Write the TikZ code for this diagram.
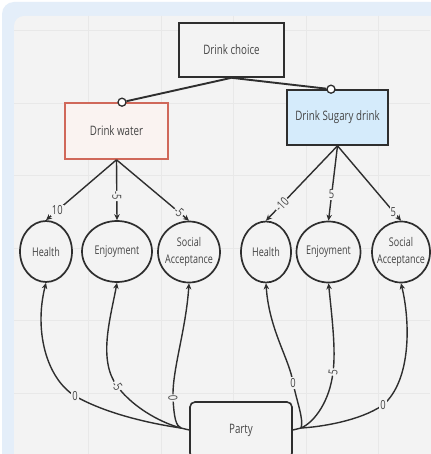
\documentclass[tikz,border=0pt]{standalone}
\usepackage{fontspec}
\setmainfont{Open Sans}[FakeStretch=0.75]
\usetikzlibrary{arrows.meta,shapes.geometric}
\definecolor{bgblue}{HTML}{E4EEF9}
\definecolor{panel}{HTML}{F3F3F3}
\definecolor{gridc}{HTML}{E8E8E8}
\definecolor{ink}{HTML}{2E2E2E}
\definecolor{txt}{HTML}{454545}
\definecolor{redb}{HTML}{D0685A}
\definecolor{waterfill}{HTML}{FAF3F1}
\definecolor{sugfill}{HTML}{D5EBFB}
\begin{document}
\begin{tikzpicture}[x=1pt,y=-1pt,
  box/.style={draw=ink, line width=1.6pt, fill=panel, text=txt, font=\fontsize{13}{14}\selectfont},
  attrtext/.style={text=txt, align=center, font=\fontsize{12}{17}\selectfont},
  attr/.style={ellipse, draw=ink, line width=1.7pt, fill=panel, minimum height=61pt, inner sep=0pt},
  port/.style={circle, draw=ink, line width=1.3pt, fill=white, minimum size=8pt, inner sep=0pt},
  conn/.style={draw=ink, line width=1.4pt},
  tip/.style={-{Stealth[length=6pt,width=5.5pt]}},
  rtip/.style={{Stealth[length=6pt,width=5.5pt]}-},
  lab/.style={fill=panel, inner sep=1pt, text=txt, font=\fontsize{12.5}{12.5}\selectfont}
]
\useasboundingbox (0,0) rectangle (430,454);
\fill[white] (0,0) rectangle (430,454);
\fill[bgblue, rounded corners=12pt] (2,2) rectangle (470,490);
\fill[panel, rounded corners=10pt] (14,16) rectangle (470,490);
\foreach \x in {88,161,233,306,378} \draw[gridc, line width=0.6pt] (\x,16) -- (\x,454);
\foreach \y in {30,103,175,248,320,393} \draw[gridc, line width=0.6pt] (14,\y) -- (430,\y);

% boxes
\node[box, minimum width=105pt, minimum height=54pt] (choice) at (231.5,50) {Drink choice};
\node[box, draw=redb, fill=waterfill, minimum width=103pt, minimum height=56pt] (water) at (116.5,131) {Drink water};
\node[box, fill=sugfill, minimum width=101pt, minimum height=55pt] (sugar) at (337.5,117.5) {Drink Sugary drink};
\node[box, rounded corners=5pt, minimum width=102pt, minimum height=56pt] (party) at (241,430) {Party};

% ports
\node[port] (wport) at ([xshift=5.5pt]water.north) {};
\node[port] (sport) at ([xshift=-6.5pt]sugar.north) {};
\draw[conn, line width=1.9pt] (choice.south) -- (wport);
\draw[conn, line width=1.9pt] (choice.south) -- (sport);

% attributes
\node[attr, minimum width=52pt, label={[attrtext]center:Health}] (hl) at (46,251.5) {};
\node[attr, minimum width=70pt, label={[attrtext]center:Enjoyment}] (el) at (117,251.5) {};
\node[attr, minimum width=62pt, label={[attrtext]center:Social\\Acceptance}] (sl) at (189,252) {};
\node[attr, minimum width=50pt, label={[attrtext]center:Health}] (hr) at (266,252) {};
\node[attr, minimum width=64pt, label={[attrtext]center:Enjoyment}] (er) at (328.5,252) {};
\node[attr, minimum width=58pt, label={[attrtext]center:Social\\Acceptance}] (sr) at (401,252) {};

% option -> attribute
\draw[conn, tip] (water.south) -- node[lab, pos=0.84] {10} (hl.north);
\draw[conn, tip] (water.south) -- node[lab, pos=0.6, sloped] {-5} (el.north);
\draw[conn, tip] (water.south) -- node[lab, pos=0.86, sloped] {-5} (sl.north);
\draw[conn, tip] (sugar.south) -- node[lab, pos=0.78, sloped] {-10} (hr.north);
\draw[conn, tip] (sugar.south) -- node[lab, pos=0.65] {5} (er.north);
\draw[conn, tip] (sugar.south) -- node[lab, pos=0.88] {5} (sr.north);

% party -> attributes
\coordinate (pl) at (181,428);
\coordinate (pr) at (301,428);
\draw[conn] (pl) -- (party.west);
\draw[conn] (pr) -- (party.east);
\draw[conn, rtip] (hl.south) .. controls (34,330) and (46,378) .. (75,396) node[lab, pos=1] {0}
  .. controls (110,416) and (160,425) .. (pl);
\draw[conn, rtip] (el.south) .. controls (110,320) and (98,360) .. (117,386) node[lab, pos=1, sloped] {-5}
  .. controls (135,410) and (165,424) .. (pl);
\draw[conn, rtip] (sl.south) .. controls (186,330) and (172,370) .. (173,398) node[lab, pos=1, sloped] {0}
  .. controls (174,418) and (176,426) .. (pl);
\draw[conn, rtip] (hr.south) .. controls (269,330) and (290,360) .. (293,383) node[lab, pos=1] {0}
  .. controls (297,402) and (304,420) .. (pr);
\draw[conn, rtip] (er.south) .. controls (332,318) and (336,350) .. (333,372) node[lab, pos=1, sloped] {5}
  .. controls (330,400) and (315,422) .. (pr);
\draw[conn, rtip] (sr.south) .. controls (410,320) and (412,380) .. (383,405) node[lab, pos=1] {0}
  .. controls (360,421) and (320,427) .. (pr);
\end{tikzpicture}
\end{document}
